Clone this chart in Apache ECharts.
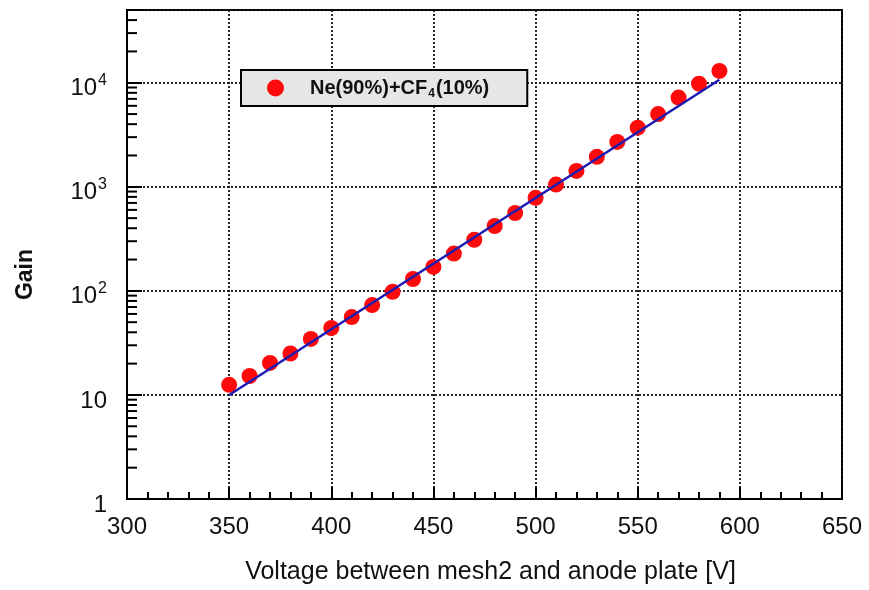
<!DOCTYPE html>
<html>
<head>
<meta charset="utf-8">
<script src="https://cdn.jsdelivr.net/npm/echarts@6/dist/echarts.min.js"></script>
<style>
  html, body { margin: 0; padding: 0; background: #fff; }
  #chart { width: 869px; height: 590px; }
</style>
</head>
<body>
<div id="chart"></div>
<script>
// measured points (voltage in V, gain)
const voltage = [350, 360, 370, 380, 390, 400, 410, 420, 430, 440, 450, 460, 470,
  480, 490, 500, 510, 520, 530, 540, 550, 560, 570, 580, 590];
const gain = [12.5, 15.2, 20.3, 25, 34.5, 44, 56, 73, 98, 130, 170, 228, 310,
  420, 560, 784, 1050, 1420, 1940, 2700, 3700, 5000, 7200, 9800, 13000];
// exponential fit, two end points
const fitVoltage = [350, 590];
const fitGain = [10, 10700];
const seriesName = "Ne(90%)+CF4(10%)";
// minor ticks of the log axis: 2..9 per decade
const minorMultipliers = [2, 3, 4, 5, 6, 7, 8, 9];
const decades = [1, 10, 100, 1000, 10000];

const yMin = 1, yMax = 50000;
const xMin = 300, xMax = 650;

let minorTicks = [];
decades.forEach(d => {
  minorMultipliers.forEach(m => {
    if (m * d < yMax) minorTicks.push([xMin, m * d]);
  });
});

const chart = echarts.init(document.getElementById("chart"));

const option = {
  backgroundColor: "#fff",
  animation: false,
  textStyle: { fontFamily: "Liberation Sans, Arial, sans-serif", color: "#000" },
  grid: {
    left: 127,
    right: 27,
    top: 10,
    bottom: 91,
    outerBoundsMode: "none",
    show: true,
    borderColor: "#000",
    borderWidth: 2,
  },
  legend: {
    data: [seriesName],
    left: 241,
    top: 70,
    backgroundColor: "#e6e6e6",
    borderColor: "#000",
    borderWidth: 2,
    borderRadius: 0,
    padding: [6, 38, 6, 26],
    itemWidth: 17,
    itemHeight: 17,
    itemGap: 0,
    icon: "circle",
    formatter: () => "{b0|Ne(90%)+CF}{sub|4}{b|(10%)}",
    textStyle: {
      rich: {
        b0: { fontSize: 20, fontWeight: "bold", color: "#111", lineHeight: 20, padding: [0, 0, 0, 21] },
        b: { fontSize: 20, fontWeight: "bold", color: "#111", lineHeight: 20 },
        sub: { fontSize: 12, fontWeight: "bold", color: "#111", lineHeight: 20, padding: [12, 1, 0, 1] },
      },
    },
  },
  xAxis: {
    type: "value",
    min: xMin,
    max: xMax,
    interval: 50,
    name: "Voltage between mesh2 and anode plate [V]",
    nameLocation: "middle",
    nameGap: 61,
    nameTextStyle: { fontSize: 25, color: "#111", padding: [0, 0, 0, 12] },
    axisLine: { show: true, lineStyle: { color: "#000", width: 2 } },
    axisTick: { inside: true, length: 12, lineStyle: { color: "#000", width: 2 } },
    minorTick: { show: true, splitNumber: 5, length: 7, lineStyle: { color: "#000", width: 2 } },
    axisLabel: { fontSize: 24, color: "#111", margin: 16 },
    splitLine: { show: true, lineStyle: { color: "#111", type: [2, 2], width: 1.8 } },
  },
  yAxis: {
    type: "log",
    logBase: 10,
    min: yMin,
    max: yMax,
    name: "Gain",
    nameLocation: "middle",
    nameGap: 90,
    nameTextStyle: { fontSize: 23, fontWeight: "bold", color: "#111", padding: [0, 40, 0, 0] },
    axisLine: { show: true, lineStyle: { color: "#000", width: 2 } },
    axisTick: { inside: true, length: 15, lineStyle: { color: "#000", width: 2 } },
    axisLabel: {
      margin: 20,
      color: "#111",
      padding: [8, 0, 0, 0],
      formatter: (v) => {
        const e = Math.round(Math.log10(v));
        if (Math.abs(Math.log10(v) - e) > 1e-6) return "";
        if (e === 0) return "{n|1}";
        if (e === 1) return "{n|10}";
        return "{n|10}{s|" + e + "}";
      },
      rich: {
        n: { fontSize: 24, color: "#111", lineHeight: 28, verticalAlign: "bottom" },
        s: { fontSize: 16, color: "#111", lineHeight: 28, verticalAlign: "top", padding: [0, 0, 8, 1] },
      },
    },
    splitLine: { show: true, lineStyle: { color: "#111", type: [2, 2], width: 1.8 } },
  },
  series: [
    {
      name: seriesName,
      type: "scatter",
      data: voltage.map((v, i) => [v, gain[i]]),
      symbol: "circle",
      symbolSize: 16,
      itemStyle: { color: "#ff0a0a", opacity: 1 },
      z: 3,
    },
    {
      name: "fit",
      type: "line",
      data: fitVoltage.map((v, i) => [v, fitGain[i]]),
      showSymbol: false,
      lineStyle: { color: "#1c1cb4", width: 2.5 },
      z: 4,
    },
    {
      name: "minor",
      type: "custom",
      data: minorTicks,
      silent: true,
      z: 5,
      renderItem: (params, api) => {
        const p = api.coord([api.value(0), api.value(1)]);
        return {
          type: "line",
          shape: { x1: p[0], y1: p[1], x2: p[0] + 10, y2: p[1] },
          style: { stroke: "#000", lineWidth: 2 },
        };
      },
    },
  ],
};

chart.setOption(option);
</script>
</body>
</html>
